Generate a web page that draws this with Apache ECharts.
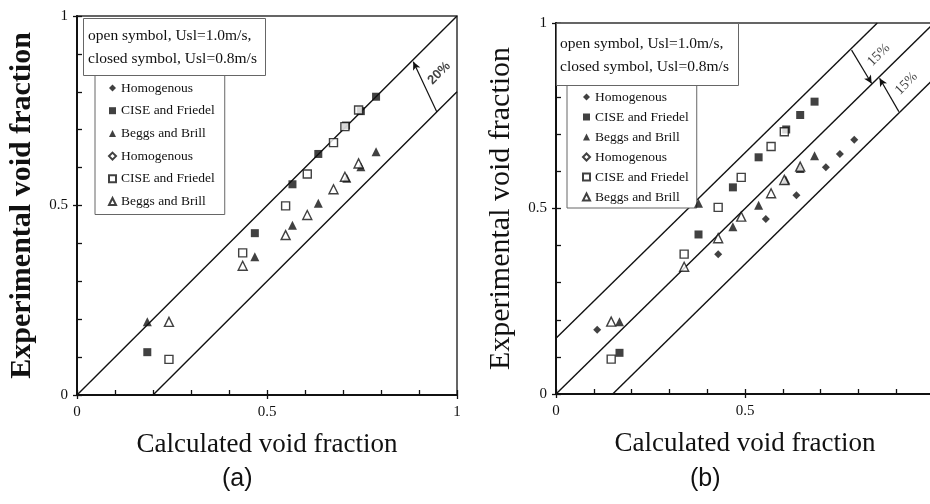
<!DOCTYPE html>
<html>
<head>
<meta charset="utf-8">
<script src="https://cdn.jsdelivr.net/npm/echarts@6/dist/echarts.min.js"></script>
<style>
html,body{margin:0;padding:0;background:#fff;}
#chart{width:930px;height:504px;}
</style>
</head>
<body>
<div id="chart"></div>
<script>
// ---------- data ----------
const majorTicks = [0, 0.5, 1];
const legendNames = ['Homogenous', 'CISE and Friedel', 'Beggs and Brill', 'Homogenous', 'CISE and Friedel', 'Beggs and Brill'];
const noteText = ['open symbol, Usl=1.0m/s,', 'closed symbol, Usl=0.8m/s'];
const panelLabels = ['(a)', '(b)'];
const xTitle = 'Calculated void fraction';
const yTitle = 'Experimental void fraction';

// panel (a)
const aHomClosed = [];
const aCiseClosed = [[0.185,0.113],[0.468,0.427],[0.567,0.556],[0.635,0.636],[0.708,0.711],[0.747,0.749],[0.787,0.787]];
const aBeggsClosed = [[0.185,0.193],[0.468,0.365],[0.567,0.448],[0.635,0.506],[0.710,0.572],[0.747,0.602],[0.787,0.642]];
const aHomOpen = [];
const aCiseOpen = [[0.242,0.094],[0.436,0.375],[0.549,0.499],[0.606,0.583],[0.675,0.666],[0.705,0.708],[0.741,0.752]];
const aBeggsOpen = [[0.242,0.193],[0.436,0.341],[0.549,0.422],[0.606,0.475],[0.675,0.543],[0.705,0.576],[0.741,0.611]];
const aRefLines = [[[0,0],[1,1]], [[0.2,0],[1,0.8]]];
const aArrows = [[[0.947,0.747],[0.885,0.879]]];
const aNotes = [[0.953,0.849,'20%']];

// panel (b)
const bHomClosed = [[0.109,0.173],[0.429,0.377],[0.555,0.472],[0.636,0.536],[0.714,0.611],[0.751,0.647],[0.789,0.685]];
const bCiseClosed = [[0.168,0.111],[0.377,0.430],[0.468,0.557],[0.536,0.638],[0.609,0.713],[0.646,0.752],[0.684,0.788]];
const bBeggsClosed = [[0.168,0.195],[0.377,0.514],[0.468,0.451],[0.536,0.509],[0.608,0.577],[0.646,0.608],[0.684,0.642]];
const bHomOpen = [];
const bCiseOpen = [[0.146,0.094],[0.339,0.377],[0.429,0.503],[0.490,0.584],[0.569,0.667],[0.604,0.707]];
const bBeggsOpen = [[0.146,0.195],[0.339,0.343],[0.429,0.420],[0.490,0.478],[0.569,0.541],[0.604,0.577],[0.646,0.613]];
const bRefLines = [[[0,0.15],[0.85,1]], [[0,0],[1,1]], [[0.15,0],[1,0.85]]];
const bArrows = [[[0.782,0.927],[0.835,0.837]], [[0.907,0.761],[0.856,0.851]]];
const bNotes = [[0.854,0.914,'15%'],[0.927,0.837,'15%']];

// ---------- build ----------
const SERIF = 'Liberation Serif';
const seriesKeys = ['Homogenous (0.8)', 'CISE and Friedel (0.8)', 'Beggs and Brill (0.8)', 'Homogenous (1.0)', 'CISE and Friedel (1.0)', 'Beggs and Brill (1.0)'];
const symbols = ['diamond', 'rect', 'triangle', 'diamond', 'rect', 'triangle'];
const isOpen = [false, false, false, true, true, true];

const isMajor = v => majorTicks.some(t => Math.abs(v - t) < 1e-6);
const fmt = v => isMajor(v) ? String(Math.round(v * 2) / 2) : '';

function mainX(grid) {
  return {
    type: 'value', gridIndex: grid, min: 0, max: 1, interval: 0.1, position: 'bottom',
    axisLine: {onZero: false, lineStyle: {color: '#111', width: 2}},
    axisTick: {inside: true, length: 5, lineStyle: {color: '#111', width: 1.3}},
    axisLabel: {formatter: fmt, color: '#111', fontFamily: SERIF, fontSize: 15, margin: 10, showMaxLabel: true, showMinLabel: true},
    splitLine: {show: false},
    name: xTitle, nameLocation: 'middle', nameGap: 36,
    nameTextStyle: {fontFamily: SERIF, fontSize: 27, color: '#111'}
  };
}
function majorX(grid) {
  return {
    type: 'value', gridIndex: grid, min: 0, max: 1, interval: 0.5, position: 'bottom',
    axisLine: {show: false, onZero: false},
    axisTick: {inside: false, length: 4, lineStyle: {color: '#111', width: 1.3}},
    axisLabel: {show: false}, splitLine: {show: false}
  };
}
function mainY(grid, bold) {
  return {
    type: 'value', gridIndex: grid, min: 0, max: 1, interval: 0.1, position: 'left',
    axisLine: {onZero: false, lineStyle: {color: '#111', width: 2}},
    axisTick: {inside: true, length: 5, lineStyle: {color: '#111', width: 1.3}},
    axisLabel: {formatter: fmt, color: '#111', fontFamily: SERIF, fontSize: 15, margin: 9},
    splitLine: {show: false},
    name: yTitle, nameLocation: 'middle', nameGap: 40, nameRotate: 90,
    nameTextStyle: {fontFamily: SERIF, fontSize: 30, fontWeight: bold ? 'bold' : 'normal', color: '#111'}
  };
}
function majorY(grid) {
  return {
    type: 'value', gridIndex: grid, min: 0, max: 1, interval: 0.5, position: 'left',
    axisLine: {show: false, onZero: false},
    axisTick: {inside: false, length: 4, lineStyle: {color: '#111', width: 1.3}},
    axisLabel: {show: false}, splitLine: {show: false}
  };
}

function scatterSeries(axisIdx, sets) {
  return sets.map((d, i) => ({
    type: 'scatter', name: seriesKeys[i], xAxisIndex: axisIdx, yAxisIndex: axisIdx,
    data: d, symbol: symbols[i], symbolSize: symbols[i] === 'triangle' ? 9 : 8,
    itemStyle: isOpen[i] ? {color: '#fff', borderColor: '#111', borderWidth: 1.4} : {color: '#111'},
    z: 5, silent: true
  }));
}
function refSeries(axisIdx, lines) {
  return lines.map(l => ({
    type: 'line', xAxisIndex: axisIdx, yAxisIndex: axisIdx, data: l,
    showSymbol: false, symbol: 'none', lineStyle: {color: '#111', width: 1.4}, silent: true, z: 2
  }));
}
function arrowSeries(axisIdx, arrows) {
  return {
    type: 'line', xAxisIndex: axisIdx, yAxisIndex: axisIdx, data: [], silent: true,
    markLine: {
      silent: true, symbol: ['none', 'arrow'], symbolSize: [6, 8],
      label: {show: false},
      lineStyle: {color: '#111', width: 1.2, type: 'solid'},
      data: arrows.map(a => [{coord: a[0]}, {coord: a[1]}])
    }
  };
}
function noteSeries(axisIdx, notes, font, weight, size) {
  return {
    type: 'scatter', xAxisIndex: axisIdx, yAxisIndex: axisIdx, data: notes, symbolSize: 0, silent: true,
    label: {show: true, position: 'inside', rotate: 45, formatter: p => p.value[2],
      fontFamily: font, fontWeight: weight, fontSize: size, color: '#111'}
  };
}
function legendFor(left, top, gap, pad) {
  return {
    data: seriesKeys, orient: 'vertical', left: left, top: top, itemGap: gap,
    itemWidth: 7, itemHeight: 7, padding: pad, selectedMode: false,
    borderColor: '#666', borderWidth: 1, backgroundColor: '#fff',
    formatter: n => n.replace(/ \(.*\)$/, ''),
    textStyle: {fontFamily: SERIF, fontSize: 13.5, color: '#111', lineHeight: 14}
  };
}
function noteTitle(left, top, pad) {
  return {
    text: noteText.join('\n'), left: left, top: top, padding: pad,
    borderColor: '#666', borderWidth: 1, backgroundColor: '#fff',
    textStyle: {fontFamily: SERIF, fontSize: 15.5, fontWeight: 'normal', color: '#111', lineHeight: 23}
  };
}

const option = {
  animation: false,
  backgroundColor: '#fff',
  title: [
    noteTitle(83, 18, [6, 9, 6, 5]),
    noteTitle(556, 23, [9, 10, 8, 4]),
    {text: panelLabels[0], left: 222, top: 467, padding: 0, textStyle: {fontFamily: 'Liberation Sans', fontSize: 25, fontWeight: 'normal', color: '#111'}},
    {text: panelLabels[1], left: 690, top: 467, padding: 0, textStyle: {fontFamily: 'Liberation Sans', fontSize: 25, fontWeight: 'normal', color: '#111'}}
  ],
  legend: [
    legendFor(95, 75, 8.7, [6, 10, 6, 13]),
    legendFor(567, 85, 6, [5, 8, 4, 15])
  ],
  grid: [
    {left: 77, top: 16, width: 380, height: 379, show: true, borderColor: '#333', borderWidth: 1.5, backgroundColor: 'transparent', outerBoundsMode: 'none', containLabel: false},
    {left: 556, top: 23, width: 378, height: 371, show: true, borderColor: '#333', borderWidth: 1.5, backgroundColor: 'transparent', outerBoundsMode: 'none', containLabel: false}
  ],
  xAxis: [mainX(0), majorX(0), mainX(1), majorX(1)],
  yAxis: [mainY(0, true), majorY(0), mainY(1, false), majorY(1)],
  series: [
    ...refSeries(0, aRefLines),
    arrowSeries(0, aArrows),
    noteSeries(0, aNotes, 'Liberation Sans', 'bold', 13),
    ...scatterSeries(0, [aHomClosed, aCiseClosed, aBeggsClosed, aHomOpen, aCiseOpen, aBeggsOpen]),
    ...refSeries(2, bRefLines),
    arrowSeries(2, bArrows),
    noteSeries(2, bNotes, SERIF, 'normal', 14),
    ...scatterSeries(2, [bHomClosed, bCiseClosed, bBeggsClosed, bHomOpen, bCiseOpen, bBeggsOpen])
  ]
};

const chart = echarts.init(document.getElementById('chart'), null, {renderer: 'canvas'});
chart.setOption(option);
</script>
</body>
</html>
